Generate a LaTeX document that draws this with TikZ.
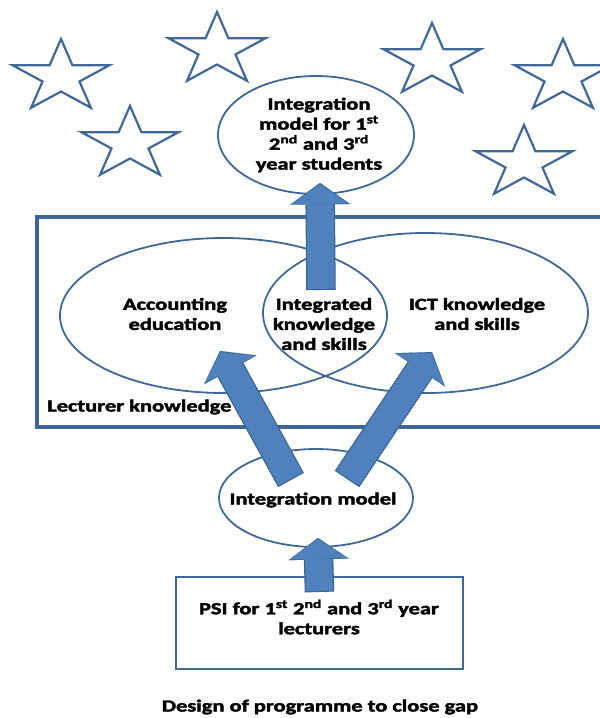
\documentclass[tikz,border=0pt]{standalone}
\usepackage{fontspec}
\setmainfont{Carlito}
\newfontfamily\heavyfont{Carlito Bold}[FakeBold=2]
\usetikzlibrary{shapes.geometric, arrows.meta}

\definecolor{lineblue}{HTML}{3F6797}
\definecolor{boxblue}{HTML}{3E6595}
\definecolor{arrowfill}{HTML}{4F81BD}
\definecolor{arrowedge}{HTML}{3A6493}

\begin{document}
\begin{tikzpicture}[x=1pt, y=-1pt,
    txt/.style={font=\heavyfont\fontsize{17}{20}\selectfont, align=center, inner sep=0pt, xscale=1.32},
    oval/.style={ellipse, draw=lineblue, line width=1.8pt, inner sep=0pt},
    starline/.style={draw=lineblue, line width=2.2pt, line join=miter},
    arrowback/.style={draw=arrowedge, line width=29.5pt, -{Triangle[width=60pt, length=21.5pt, line width=0.1pt]}},
    arrowfront/.style={draw=arrowfill, line width=27pt, shorten >=1.3pt, shorten <=1.2pt, -{Triangle[width=56pt, length=19.5pt, line width=0.1pt]}}]
    % Page size of the original
    \useasboundingbox (0,0) rectangle (600,718);
    \clip (0,0) rectangle (600,718);

    % Stars round the top
    \foreach \cx/\cy in {61/77, 217/50, 130/144, 432/61, 563/77, 524/163}
        \draw[starline, shift={(\cx,\cy)}, xscale=1.34] (270:38) \foreach \a in {0,72,...,288} {-- (306+\a:14.5) -- (342+\a:38)} -- cycle;

    % Lecturer knowledge box
    \draw[boxblue, line width=3.5pt] (37,217) rectangle (640,427);

    % Ovals and boxes
    \node[oval, minimum width=327pt, minimum height=155pt] (acc) at (223.5,315.5) {};  % accounting
    \node[oval, minimum width=325pt, minimum height=160pt] (ict) at (425.5,313) {};    % ICT
    \node[oval, minimum width=196pt, minimum height=118pt] (students) at (316,135) {}; % top goal
    \node[oval, minimum width=194pt, minimum height=98pt] (intm) at (316,498) {};      % integration model
    \node[draw=lineblue, line width=1.8pt, minimum width=287pt, minimum height=92pt] (psi) at (319.5,623) {};

    % Labels
    \node[txt] (studentstext) at (319,135) {Integration\\model for 1\textsuperscript{st}\\2\textsuperscript{nd} and 3\textsuperscript{rd}\\year students};
    \node[txt] (acctext) at (175,314) {Accounting\\education};
    \node[txt] (icttext) at (477,314) {ICT knowledge\\and skills};
    \node[txt] (integtext) at (324,324) {Integrated\\knowledge\\and skills};
    \node[txt] (intmtext) at (313,500) {Integration model};
    \node[txt] (psitext) at (319,617) {PSI for 1\textsuperscript{st} 2\textsuperscript{nd} and 3\textsuperscript{rd} year\\lecturers};
    \node[txt, anchor=west] (lecttext) at (47,407) {Lecturer knowledge};
    \node[txt] (caption) at (320,707) {Design of programme to close gap};

    % Block arrows
    \draw[arrowback] ([xshift=-3pt,yshift=34pt]integtext.center) -- ([xshift=4pt,yshift=12pt]students.south);
    \draw[arrowfront] ([xshift=-3pt,yshift=34pt]integtext.center) -- ([xshift=4pt,yshift=12pt]students.south);
    \draw[arrowback] ([xshift=-25pt,yshift=18pt]intm.center) -- ([xshift=-3.5pt,yshift=-35.5pt]acc.center);
    \draw[arrowfront] ([xshift=-25pt,yshift=18pt]intm.center) -- ([xshift=-3.5pt,yshift=-35.5pt]acc.center);
    \draw[arrowback] ([xshift=31pt,yshift=19pt]intm.center) -- ([xshift=6.5pt,yshift=-39pt]ict.center);
    \draw[arrowfront] ([xshift=31pt,yshift=19pt]intm.center) -- ([xshift=6.5pt,yshift=-39pt]ict.center);
    \draw[arrowback] ([yshift=31pt]psi.center) -- ([xshift=2pt,yshift=10pt]intm.south);
    \draw[arrowfront] ([yshift=31pt]psi.center) -- ([xshift=2pt,yshift=10pt]intm.south);
\end{tikzpicture}
\end{document}
